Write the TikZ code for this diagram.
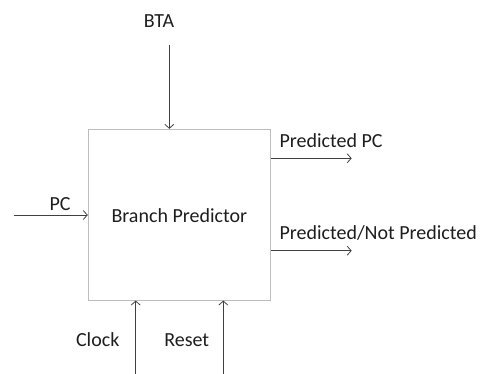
\documentclass[tikz,border=0pt]{standalone}
\usepackage{fontspec}
\setmainfont{Carlito}
\usetikzlibrary{arrows.meta,positioning,calc}

\definecolor{boxgray}{HTML}{BDBDBD}
\definecolor{wiregray}{HTML}{404040}
\definecolor{textgray}{HTML}{1E1E1E}

\begin{document}
\begin{tikzpicture}
[x=1pt,y=-1pt,
block/.style={draw=boxgray,line width=1pt,minimum width=182.4pt,minimum height=170.7pt,inner sep=0pt},
sig/.style={draw=wiregray,line width=.8pt,-{Straight Barb[length=4pt,width=9pt]}},
lbl/.style={text=textgray,font=\fontsize{20}{24}\selectfont,inner sep=0pt}]

\useasboundingbox (0,0) rectangle (483,374);

% predictor block
\node[block] (bp) at (179.5,214.7) {};
\node[lbl] (bpname) at (179.3,216) {Branch Predictor};

% BTA input from top
\node[lbl] (bta) at (159,20.7) {BTA};
\coordinate (btain) at (169.3,45);
\draw[sig] (btain) -- (btain |- bp.north);

% PC input from left
\coordinate (pcin) at (14,215);
\node[lbl] (pc) at (60,204) {PC};
\draw[sig] (pcin) -- (pcin -| bp.west);

% outputs to the right
\coordinate (ppcout) at (351.7,158.3);
\node[lbl,anchor=west] (ppc) at (279.3,141) {Predicted PC};
\draw[sig] (ppcout -| bp.east) -- (ppcout);

\coordinate (npout) at (351.7,250.7);
\node[lbl,anchor=west] (np) at (279.3,233) {Predicted/Not Predicted};
\draw[sig] (npout -| bp.east) -- (npout);

% clock and reset from below
\coordinate (clkin) at (135.7,374);
\node[lbl] (clk) at (97.7,340) {Clock};
\draw[sig] (clkin) -- (clkin |- bp.south);

\coordinate (rstin) at (223.3,374);
\node[lbl] (rst) at (186.7,340) {Reset};
\draw[sig] (rstin) -- (rstin |- bp.south);
\end{tikzpicture}
\end{document}
